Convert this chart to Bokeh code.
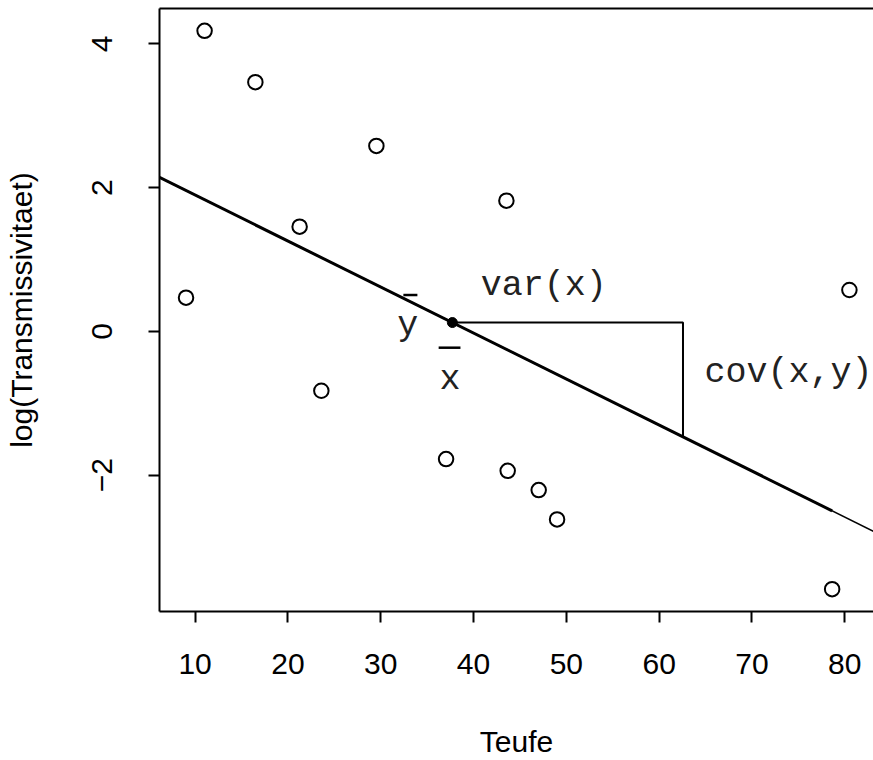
import numpy as np
from bokeh.plotting import figure
from bokeh.models import Range1d, LinearAxis, FixedTicker
from bokeh.core.properties import value
from bokeh.embed import file_html
from bokeh.resources import INLINE

# ---- data ----
teufe = [9.02, 11.02, 16.49, 21.26, 23.60, 29.53, 37.04, 43.54, 43.68, 47.02, 49.00, 78.64, 80.50]
log_trans = [0.468, 4.181, 3.467, 1.456, -0.827, 2.580, -1.778, 1.818, -1.941, -2.209, -2.617, -3.588, 0.575]
x_ticks = [10, 20, 30, 40, 50, 60, 70, 80]
y_ticks = [-2, 0, 2, 4]
x_title = "Teufe"
y_title = "log(Transmissivitaet)"

# annotation texts and anchor positions (data units)
ann_text = ["var(x)", "cov(x,y)", "y", "x"]
ann_x = [47.56, 73.93, 32.90, 37.46]
ann_y = [0.631, -0.585, 0.074, -0.678]
bar_x0 = [32.44, 36.24]
bar_x1 = [33.95, 38.59]
bar_y = [0.505, -0.228]
var_len = 24.85          # horizontal leg of the triangle
thick_end = teufe[11]    # thick part of the fitted line ends here

# ---- derived ----
x = np.array(teufe)
y = np.array(log_trans)
slope, intercept = np.polyfit(x, y, 1)
xbar, ybar = x.mean(), y.mean()

xr = x.max() - x.min()
yr = y.max() - y.min()
xlo, xhi = x.min() - 0.04 * xr, x.max() + 0.04 * xr
ylo, yhi = y.min() - 0.04 * yr, y.max() + 0.04 * yr
x_vis_hi = xlo + (xhi - xlo) * 0.9966   # right edge of the box lies just outside the window

FONT = "Liberation Sans"
MONO = "Liberation Mono"

p = figure(
    output_backend="svg", toolbar_location=None,
    frame_width=714, frame_height=603,
    min_border_left=159, min_border_right=0, min_border_top=8, min_border_bottom=149,
    x_range=Range1d(xlo, x_vis_hi), y_range=Range1d(ylo, yhi),
    background_fill_color="white", border_fill_color="white",
)
p.outline_line_color = None
p.grid.visible = False

for ax in (p.xaxis[0], p.yaxis[0]):
    ax.axis_line_width = 2
    ax.axis_line_color = "black"
    ax.major_tick_line_width = 2
    ax.major_tick_line_color = "black"
    ax.major_tick_out = 11
    ax.major_tick_in = 0
    ax.minor_tick_line_color = None
    ax.major_label_text_font = FONT
    ax.major_label_text_font_size = "30px"
    ax.major_label_text_color = "black"
    ax.axis_label_text_font = FONT
    ax.axis_label_text_font_size = "30px"
    ax.axis_label_text_font_style = "normal"
    ax.axis_label_text_color = "black"

p.xaxis.ticker = FixedTicker(ticks=x_ticks)
p.yaxis.ticker = FixedTicker(ticks=y_ticks)
p.xaxis.axis_label = x_title
p.yaxis.axis_label = y_title
p.xaxis.major_label_standoff = 31
p.xaxis.axis_label_standoff = 48
p.yaxis.major_label_standoff = 36
p.yaxis.axis_label_standoff = 52
p.yaxis.major_label_orientation = "vertical"
p.yaxis.major_label_overrides = {t: ("\u2212" + str(-t)) if t < 0 else str(t) for t in y_ticks}

top = LinearAxis(ticker=FixedTicker(ticks=[]), major_tick_out=0, major_tick_in=0,
                 minor_tick_out=0, minor_tick_in=0, major_label_standoff=0,
                 axis_line_width=2, axis_line_color="black")
p.add_layout(top, "above")

# fitted line: thin over whole range, thick over data part
p.line([xlo, xhi], [intercept + slope * xlo, intercept + slope * xhi], line_color="black", line_width=1.5)
p.line([xlo, thick_end], [intercept + slope * xlo, intercept + slope * thick_end], line_color="black", line_width=3)

# triangle
p.line([xbar, xbar + var_len, xbar + var_len], [ybar, ybar, ybar + slope * var_len],
       line_color="black", line_width=2)

# points
p.scatter(teufe, log_trans, marker="circle", size=14.5, fill_color=None, line_color="black", line_width=2)
p.scatter([xbar], [ybar], marker="circle", size=10, fill_color="black", line_color="black")

# annotations
p.text(x=ann_x, y=ann_y, text=ann_text, text_align="center", text_baseline="alphabetic",
       text_font=value(MONO), text_font_size="35px", text_color="#222222")
p.segment(x0=bar_x0, y0=bar_y, x1=bar_x1, y1=bar_y, line_color="black", line_width=2.5)

open("out.html", "w").write(file_html(p, INLINE))
